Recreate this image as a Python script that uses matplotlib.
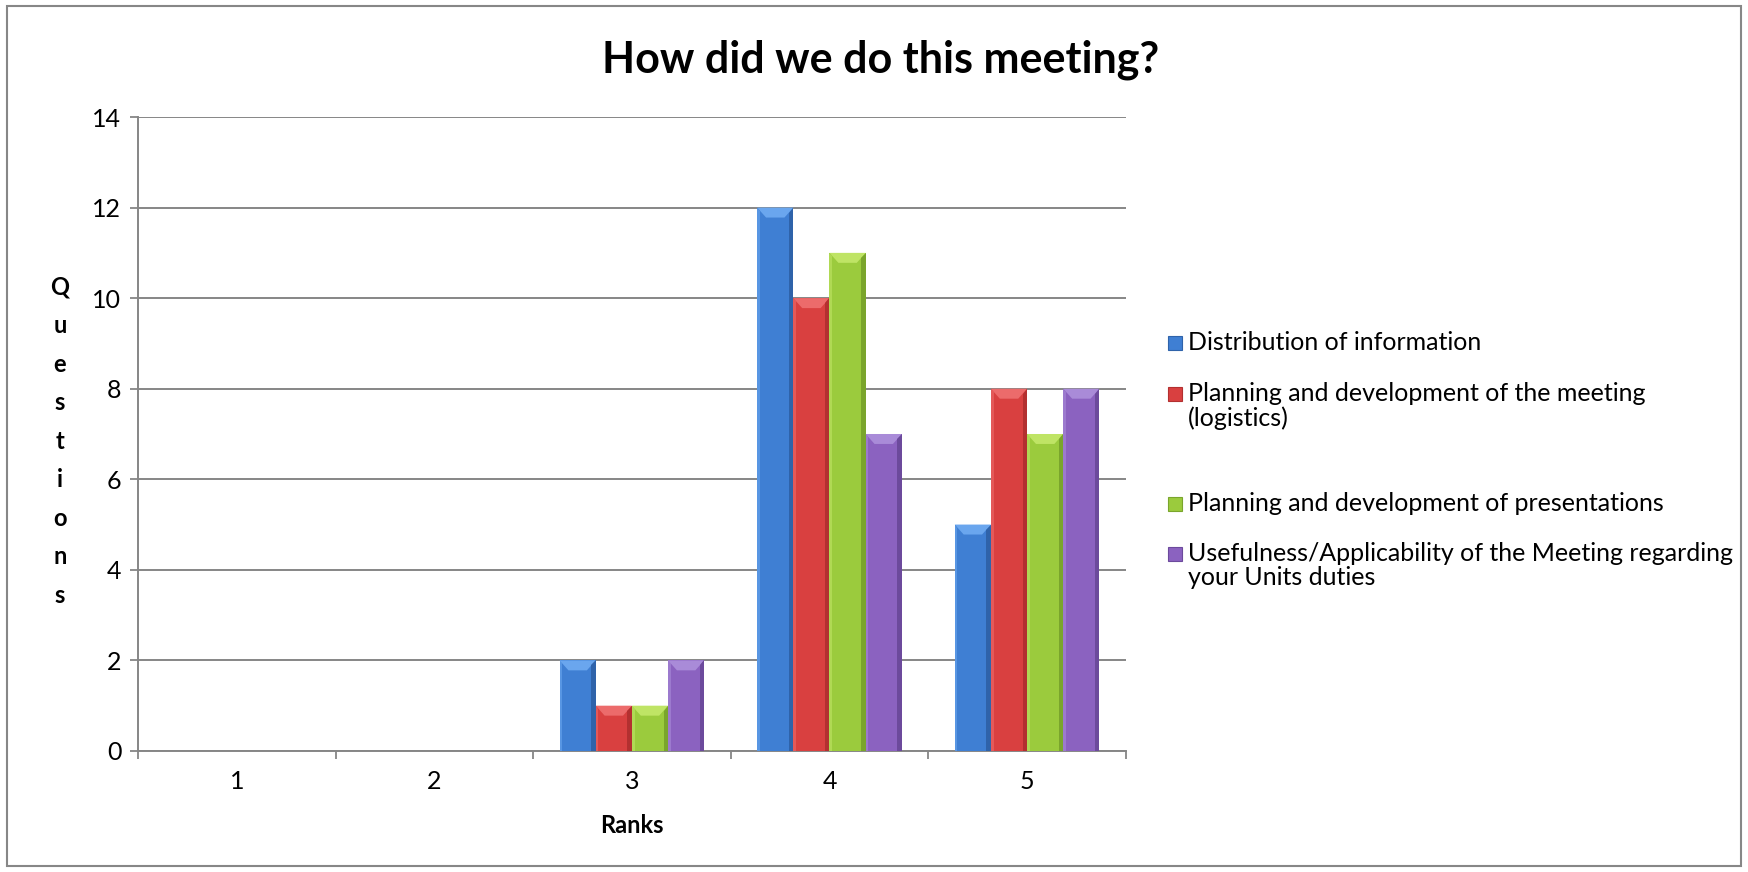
import matplotlib
matplotlib.use('Agg')
import matplotlib.pyplot as plt
from matplotlib.patches import Polygon, Rectangle
import numpy as np

plt.rcParams['font.family'] = ['Lato', 'DejaVu Sans']

# Data
ranks = ['1', '2', '3', '4', '5']
series_names = ['Distribution of information',
                'Planning and development of the meeting\n(logistics)',
                'Planning and development of presentations',
                'Usefulness/Applicability of the Meeting regarding\nyour Units duties']
distribution = [0, 0, 2, 12, 5]
logistics = [0, 0, 1, 10, 8]
presentations = [0, 0, 1, 11, 7]
usefulness = [0, 0, 2, 7, 8]
y_ticks = [0, 2, 4, 6, 8, 10, 12, 14]

series = [distribution, logistics, presentations, usefulness]
colors = ['#3f7fd3', '#d94040', '#9bcb3d', '#8b62c0']
tops = ['#6aa6ee', '#ec6b6b', '#bfe465', '#a98bd8']
darks = ['#2f63aa', '#b33030', '#7aa52c', '#6c4a9c']

fig = plt.figure(figsize=(17.48, 8.72), dpi=100)
ax = fig.add_axes([0.0789, 0.1388, 0.5652, 0.7270])

# Outer frame around the chart
fig.patches.append(Rectangle((0.004, 0.007), 0.992, 0.986, transform=fig.transFigure,
                             fill=False, edgecolor='#878787', linewidth=1.5))

x = np.arange(1, len(ranks) + 1)
width = 0.183
dx = 0.045
dy = 0.22
for i, vals in enumerate(series):
    pos = x + (i - 1.5) * width
    bars = ax.bar(pos, vals, width=width, color=colors[i], linewidth=0, zorder=3)
    # simple bevel, drawn from each bar's geometry
    for b in bars:
        h = b.get_height()
        if h <= 0:
            continue
        x0 = b.get_x()
        x1 = x0 + b.get_width()
        d = min(dy, h / 2)
        ax.add_patch(Polygon([(x0, h), (x1, h), (x1 - dx, h - d), (x0 + dx, h - d)],
                             closed=True, color=tops[i], linewidth=0, zorder=4))
        ax.add_patch(Polygon([(x1, h), (x1, 0), (x1 - dx * 0.5, 0), (x1 - dx * 0.5, h - d * 0.5)],
                             closed=True, color=darks[i], linewidth=0, zorder=4))
        ax.add_patch(Polygon([(x0, h), (x0, 0), (x0 + dx * 0.3, 0), (x0 + dx * 0.3, h - d * 0.3)],
                             closed=True, color=tops[i], alpha=0.6, linewidth=0, zorder=4))

ax.set_xlim(0.5, 5.5)
ax.set_ylim(0, 14)
ax.set_yticks(y_ticks)
ax.set_xticks(x)
ax.set_xticklabels(ranks)
ax.set_xticks(np.arange(0.5, 6.0, 1.0), minor=True)
ax.tick_params(axis='x', which='major', length=0, pad=14, labelsize=18)
ax.tick_params(axis='x', which='minor', length=6, width=1.3, color='#868686', direction='out')
ax.tick_params(axis='y', length=6, width=1.3, color='#868686', labelsize=18, pad=6)

ax.yaxis.grid(True, color='#868686', linewidth=1.4, zorder=0)
for side in ['top', 'right']:
    ax.spines[side].set_visible(False)
for side in ['left', 'bottom']:
    ax.spines[side].set_color('#868686')
    ax.spines[side].set_linewidth(1.4)

fig.text(0.504, 0.932, 'How did we do this meeting?', ha='center', va='center',
         fontsize=31, fontweight='bold')
ax.set_xlabel('Ranks', fontsize=17, fontweight='bold', labelpad=15)

# stacked y label
for k, ch in enumerate('Questions'):
    fig.text(0.0343, 1 - (287 + k * 38.5) / 872, ch, ha='center', va='center',
             fontsize=17, fontweight='bold')

# legend
legend_y = [343, 394, 504, 554]
for i, name in enumerate(series_names):
    yy = 1 - legend_y[i] / 872
    fig.patches.append(Rectangle((1168 / 1748, yy - 7 / 872), 14 / 1748, 14 / 872,
                                 transform=fig.transFigure, facecolor=colors[i],
                                 edgecolor=darks[i], linewidth=0.8))
    fig.text(1188 / 1748, yy + 12 / 872, name, ha='left', va='top', fontsize=18,
             linespacing=1.05)

fig.savefig('out.png', dpi=100)
